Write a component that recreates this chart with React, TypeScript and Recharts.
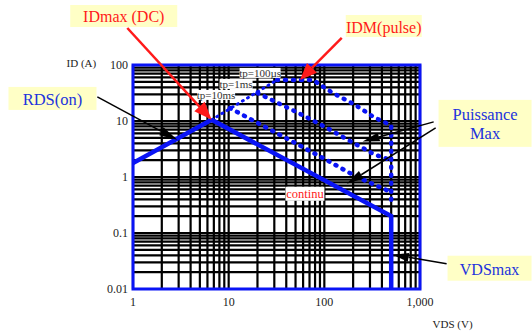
import React from 'react';
import {
  LineChart,
  Line,
  XAxis,
  YAxis,
  CartesianGrid,
  ReferenceArea,
  ReferenceLine,
  ReferenceDot,
} from 'recharts';

// ---------- data ----------
const xTicks = [1, 2, 3, 4, 5, 6, 7, 8, 9, 10, 20, 30, 40, 50, 60, 70, 80, 90, 100, 200, 300, 400, 500, 600, 700, 800, 900, 1000];
const yTicks = [
  0.01, 0.02, 0.03, 0.04, 0.05, 0.06, 0.07, 0.08, 0.09,
  0.1, 0.2, 0.3, 0.4, 0.5, 0.6, 0.7, 0.8, 0.9,
  1, 2, 3, 4, 5, 6, 7, 8, 9,
  10, 20, 30, 40, 50, 60, 70, 80, 90, 100,
];
const xMajor = [1, 10, 100, 1000];
const xMajorLabels = ['1', '10', '100', '1,000'];
const yMajor = [0.01, 0.1, 1, 10, 100];
const yMajorLabels = ['0.01', '0.1', '1', '10', '100'];

const rdsOn = [
  { v: 1, i: 1.77 },
  { v: 6.64, i: 10.5 },
];
const continu = [
  { v: 6.64, i: 10.5 },
  { v: 500, i: 0.2 },
  { v: 500, i: 0.01 },
];
const rdsPulse = [
  { v: 6.64, i: 10.5 },
  { v: 32, i: 54 },
];
const tp100us = [
  { v: 32, i: 54 },
  { v: 76, i: 54 },
  { v: 123, i: 31.5 },
  { v: 209, i: 19.5 },
  { v: 338, i: 11.4 },
  { v: 485, i: 8.6 },
  { v: 500, i: 8.4 },
  { v: 500, i: 0.3 },
];
const tp1ms = [
  { v: 20, i: 31.7 },
  { v: 53, i: 14 },
  { v: 101, i: 7.9 },
  { v: 199, i: 4.1 },
  { v: 338, i: 2.5 },
  { v: 500, i: 2.0 },
];
const tp10ms = [
  { v: 10.3, i: 17 },
  { v: 53, i: 3.8 },
  { v: 109, i: 1.95 },
  { v: 219, i: 1.0 },
  { v: 485, i: 0.55 },
  { v: 500, i: 0.53 },
];

// ---------- styles ----------
const BLUE = '#0A14F5';
const RED = '#FF1A1A';
const TEXT_BLUE = '#2233DD';
const YELLOW = '#FFFFC6';
const SERIF = 'Liberation Serif';

const makeArrow = (color: string, width: number, L: number, W: number) => (props: any) => {
  const { x1, y1, x2, y2 } = props;
  const ang = Math.atan2(y2 - y1, x2 - x1);
  const bx = x2 - L * Math.cos(ang);
  const by = y2 - L * Math.sin(ang);
  const px = -Math.sin(ang) * W;
  const py = Math.cos(ang) * W;
  return (
    <g>
      <line x1={x1} y1={y1} x2={bx} y2={by} stroke={color} strokeWidth={width} />
      <polygon points={`${x2},${y2} ${bx + px},${by + py} ${bx - px},${by - py}`} fill={color} />
    </g>
  );
};

const makeBox =
  (lines: string[], opts: { w: number; h: number; color: string; size: number; bg: string; lh?: number; dy?: number }) =>
  (props: any) => {
    const { cx, cy } = props;
    const lh = opts.lh ?? opts.size * 1.15;
    const n = lines.length;
    return (
      <g>
        {opts.bg !== 'none' && (
          <rect x={cx - opts.w / 2} y={cy - opts.h / 2} width={opts.w} height={opts.h} fill={opts.bg} />
        )}
        {lines.map((t, k) => (
          <text
            key={k}
            x={cx}
            y={cy + (k - (n - 1) / 2) * lh + (opts.dy ?? 0)}
            textAnchor="middle"
            dominantBaseline="central"
            fill={opts.color}
            fontFamily={SERIF}
            fontSize={opts.size}
            style={{ fontSize: opts.size, fontFamily: SERIF }}
          >
            {t}
          </text>
        ))}
      </g>
    );
  };

const fmtX = (v: number) => {
  const k = xMajor.indexOf(v);
  return k >= 0 ? xMajorLabels[k] : '';
};
const fmtY = (v: number) => {
  const k = yMajor.indexOf(v);
  return k >= 0 ? yMajorLabels[k] : '';
};

const tickStyle = { fill: '#222', fontSize: 12, fontFamily: SERIF, style: { fontFamily: SERIF, fontSize: 12 } };

export default function App() {
  return (
    <div style={{ position: 'absolute', left: 0, top: 0, width: 532, height: 332, background: '#fff', fontFamily: SERIF }}>
      <LineChart width={532} height={332} margin={{ top: 65, left: 132, right: 112, bottom: 42 }} style={{ fontFamily: SERIF }}>
        <CartesianGrid stroke="#000" strokeWidth={2.2} />
        <XAxis
          dataKey="v"
          type="number"
          scale="log"
          domain={[1, 1000]}
          allowDataOverflow
          ticks={xTicks}
          interval={0}
          tickFormatter={fmtX}
          axisLine={false}
          tickLine={false}
          tick={tickStyle}
          height={1}
        />
        <YAxis
          dataKey="i"
          type="number"
          scale="log"
          domain={[0.01, 100]}
          allowDataOverflow
          ticks={yTicks}
          interval={0}
          tickFormatter={fmtY}
          axisLine={false}
          tickLine={false}
          tickSize={3}
          tickMargin={2}
          tick={tickStyle}
          width={1}
        />
        <Line data={rdsPulse} dataKey="i" stroke={BLUE} strokeWidth={3} strokeDasharray="1 5" strokeLinecap="round" dot={false} isAnimationActive={false} />
        <Line data={tp100us} dataKey="i" stroke={BLUE} strokeWidth={4.5} strokeDasharray="1 7" strokeLinecap="round" strokeLinejoin="round" dot={false} isAnimationActive={false} />
        <Line data={tp1ms} dataKey="i" stroke={BLUE} strokeWidth={4.5} strokeDasharray="1 7" strokeLinecap="round" strokeLinejoin="round" dot={false} isAnimationActive={false} />
        <Line data={tp10ms} dataKey="i" stroke={BLUE} strokeWidth={4.5} strokeDasharray="1 7" strokeLinecap="round" strokeLinejoin="round" dot={false} isAnimationActive={false} />
        <Line data={rdsOn} dataKey="i" stroke={BLUE} strokeWidth={4.5} dot={false} isAnimationActive={false} />
        <Line data={continu} dataKey="i" stroke={BLUE} strokeWidth={4.5} strokeLinejoin="miter" dot={false} isAnimationActive={false} />

        <ReferenceArea x1={1} x2={1000} y1={0.01} y2={100} fill="none" stroke={BLUE} strokeWidth={3} ifOverflow="visible" />

        {/* small in-plot labels */}
        <ReferenceDot x={21.3} y={72.2} ifOverflow="visible" shape={makeBox(['tp=100µs'], { w: 41, h: 10, color: '#333', size: 11, bg: '#fff' })} />
        <ReferenceDot x={11.95} y={45.9} ifOverflow="visible" shape={makeBox(['tp=1ms'], { w: 33, h: 10, color: '#333', size: 11, bg: '#fff' })} />
        <ReferenceDot x={7.39} y={29.2} ifOverflow="visible" shape={makeBox(['tp=10ms'], { w: 38, h: 10, color: '#333', size: 11, bg: '#fff' })} />
        <ReferenceDot x={62.7} y={0.502} ifOverflow="visible" shape={makeBox(['continu'], { w: 39, h: 14, color: RED, size: 12.5, bg: '#fff' })} />

        {/* axis titles */}
        <ReferenceDot x={0.289} y={109} ifOverflow="visible" shape={makeBox(['ID (A)'], { w: 30, h: 12, color: '#222', size: 11, bg: 'none' })} />
        <ReferenceDot x={2193} y={0.00241} ifOverflow="visible" shape={makeBox(['VDS (V)'], { w: 40, h: 12, color: '#222', size: 11, bg: 'none' })} />

        {/* callout arrows */}
        <ReferenceLine segment={[{ x: 0.872, y: 458 }, { x: 6.64, y: 10.5 }]} ifOverflow="visible" shape={makeArrow(RED, 2.5, 18, 7)} />
        <ReferenceLine segment={[{ x: 152, y: 304 }, { x: 55.6, y: 54.2 }]} ifOverflow="visible" shape={makeArrow(RED, 2.5, 17, 7)} />
        <ReferenceLine segment={[{ x: 0.424, y: 26.9 }, { x: 2.9, y: 4.61 }]} ifOverflow="visible" shape={makeArrow('#000', 1.5, 18, 4.5)} />
        <ReferenceLine segment={[{ x: 1390, y: 9.65 }, { x: 251, y: 4.3 }]} ifOverflow="visible" shape={makeArrow('#000', 1.5, 17, 4.5)} />
        <ReferenceLine segment={[{ x: 1458, y: 7.54 }, { x: 172, y: 0.756 }]} ifOverflow="visible" shape={makeArrow('#000', 1.5, 17, 4.5)} />
        <ReferenceLine segment={[{ x: 1897, y: 0.0283 }, { x: 519, y: 0.041 }]} ifOverflow="visible" shape={makeArrow('#000', 1.5, 16, 4.5)} />

        {/* callout boxes */}
        <ReferenceDot x={0.8} y={750} ifOverflow="visible" shape={makeBox(['IDmax (DC)'], { w: 107, h: 22, color: RED, size: 16, bg: YELLOW, dy: 1 })} />
        <ReferenceDot x={418} y={497} ifOverflow="visible" shape={makeBox(['IDM(pulse)'], { w: 76, h: 22, color: RED, size: 16, bg: YELLOW, dy: 1 })} />
        <ReferenceDot x={0.144} y={25.3} ifOverflow="visible" shape={makeBox(['RDS(on)'], { w: 88, h: 23, color: TEXT_BLUE, size: 16.5, bg: YELLOW, dy: 1 })} />
        <ReferenceDot x={4786} y={9.07} ifOverflow="visible" shape={makeBox(['Puissance', 'Max'], { w: 93, h: 47, color: TEXT_BLUE, size: 16.5, bg: YELLOW, lh: 19, dy: 1 })} />
        <ReferenceDot x={5333} y={0.0235} ifOverflow="visible" shape={makeBox(['VDSmax'], { w: 84, h: 25, color: TEXT_BLUE, size: 16, bg: YELLOW, dy: 1 })} />
      </LineChart>
    </div>
  );
}
